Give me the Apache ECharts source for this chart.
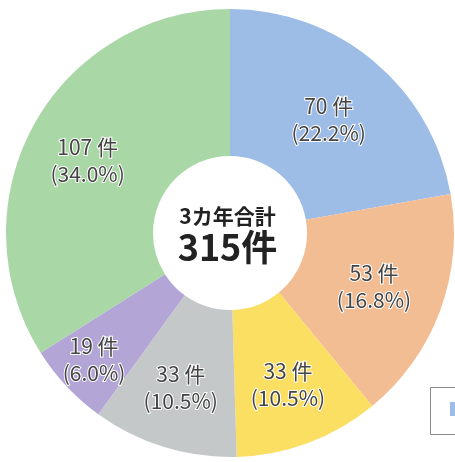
<!DOCTYPE html>
<html>
<head>
<meta charset="utf-8">
<script src="https://cdn.jsdelivr.net/npm/echarts@6/dist/echarts.min.js"></script>
<style>
  html, body { margin: 0; padding: 0; background: #fff; }
  #chart { width: 455px; height: 462px; }
</style>
</head>
<body>
<div id="chart"></div>
<script>
// 件数（時計回り、12時の位置から）
var sliceNames = ['区分1', '区分2', '区分3', '区分4', '区分5', '区分6']
var sliceCounts = [70, 53, 33, 33, 19, 107]
var sliceColors = ['#9dbde6', '#f3bd94', '#fbdf63', '#c4c8c9', '#b3a6d7', '#a9d7a6']
// ラベルの微調整
var labelOffsets = [[0, 4], [0, 0], [4, 8], [-4, 8], [-24, 22], [-8, 2]]
var centerTitle = '3カ年合計'
var centerTotal = '315件'

var chart = echarts.init(document.getElementById('chart'))

var pieData = sliceCounts.map(function (v, i) {
  return {
    name: sliceNames[i],
    value: v,
    itemStyle: { color: sliceColors[i] },
    label: { offset: labelOffsets[i] }
  }
})

chart.setOption({
  animation: false,
  graphic: [
    {
      type: 'text',
      left: 'center',
      top: 206,
      style: {
        text: centerTitle,
        font: 'bold 21px "Noto Sans CJK JP"',
        fill: '#222'
      },
      x: -1
    },
    {
      type: 'text',
      left: 'center',
      top: 229,
      style: {
        text: centerTotal,
        font: 'bold 36px "Noto Sans CJK JP"',
        fill: '#222'
      },
      x: -1
    },
    // 右下の凡例（見切れ）
    {
      type: 'rect',
      shape: { x: 430.5, y: 387.5, width: 40, height: 47 },
      style: { fill: '#fff', stroke: '#8a8a8a', lineWidth: 1 }
    },
    {
      type: 'rect',
      shape: { x: 450, y: 402, width: 10, height: 14 },
      style: { fill: '#9dbde6' }
    }
  ],
  series: [
    {
      type: 'pie',
      center: [230, 233],
      radius: [77, 224],
      startAngle: 90,
      clockwise: true,
      percentPrecision: 1,
      itemStyle: { borderWidth: 0 },
      label: {
        show: true,
        position: 'inside',
        fontFamily: '"Noto Sans CJK JP"',
        fontSize: 21,
        lineHeight: 27,
        color: '#444',
        textBorderColor: '#fff',
        textBorderWidth: 2,
        formatter: function (p) {
          return p.value + ' 件\n(' + p.percent.toFixed(1) + '%)'
        }
      },
      labelLine: { show: false },
      emphasis: { disabled: true },
      data: pieData
    }
  ]
})
</script>
</body>
</html>
